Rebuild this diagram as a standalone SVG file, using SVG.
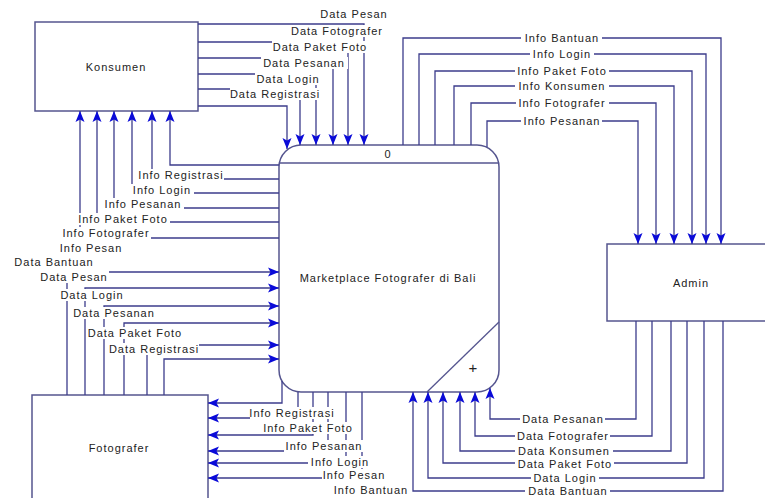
<svg xmlns="http://www.w3.org/2000/svg" width="765" height="498" viewBox="0 0 765 498">
<defs>
<marker id="ah" markerUnits="userSpaceOnUse" markerWidth="13" markerHeight="11" refX="11" refY="4.5" orient="auto" overflow="visible">
<path d="M0,0 L11,4.5 L0,9 L2.5,4.5 z" fill="#0a0ad8"/>
</marker>
<style>
.node{fill:#fff;stroke:#55558f;stroke-width:1.5}
.ln{fill:none;stroke:#3c3c8c;stroke-width:1.3;marker-end:url(#ah)}
.t{font-family:"Liberation Sans",Arial,sans-serif;font-size:11px;letter-spacing:1px;fill:#222;text-anchor:middle}
.bg{fill:#fff}
</style>
</defs>
<rect x="0" y="0" width="765" height="498" fill="#fff"/>

<g id="konsumen">
<rect class="node" x="35" y="22" width="163" height="89"/>
<text class="t" x="116" y="71">Konsumen</text>
</g>
<g id="fotografer">
<rect class="node" x="32" y="395" width="176" height="110"/>
<text class="t" x="119" y="452">Fotografer</text>
</g>
<g id="admin">
<rect class="node" x="607" y="244" width="170" height="77"/>
<text class="t" x="691" y="287">Admin</text>
</g>
<g id="process">
<rect class="node" x="279" y="145" width="220" height="247" rx="22" ry="22"/>
<line x1="279" y1="163" x2="499" y2="163" stroke="#55558f" stroke-width="1.3"/>
<line x1="427" y1="392" x2="499" y2="322" stroke="#55558f" stroke-width="1.3"/>
<text class="t" x="388" y="158">0</text>
<text class="t" x="388" y="282">Marketplace Fotografer di Bali</text>
<text x="473" y="373" font-family="Liberation Sans,Arial,sans-serif" font-size="15" fill="#222" text-anchor="middle">+</text>
</g>

<g id="connectors">
<path class="ln" d="M198,24 H364 V145"/>
<path class="ln" d="M198,42 H348 V145"/>
<path class="ln" d="M198,58 H333 V145"/>
<path class="ln" d="M198,74 H316 V145"/>
<path class="ln" d="M198,89 H300 V145"/>
<path class="ln" d="M198,106 H287 V149"/>

<path class="ln" d="M279,165 H170 V111"/>
<path class="ln" d="M279,179 H152 V111"/>
<path class="ln" d="M279,193 H132 V111"/>
<path class="ln" d="M279,208 H114 V111"/>
<path class="ln" d="M279,222 H97 V111"/>
<path class="ln" d="M279,238 H80 V111"/>

<path class="ln" d="M67,395 V272 H279"/>
<path class="ln" d="M85,395 V288 H279"/>
<path class="ln" d="M104,395 V306 H279"/>
<path class="ln" d="M124,395 V323 H279"/>
<path class="ln" d="M147,395 V345 H279"/>
<path class="ln" d="M164,395 V359 H279"/>

<path class="ln" d="M282,381 V403 H208"/>
<path class="ln" d="M298,392 V418 H208"/>
<path class="ln" d="M313,392 V435 H208"/>
<path class="ln" d="M328,392 V451 H208"/>
<path class="ln" d="M346,392 V463 H208"/>
<path class="ln" d="M362,392 V478 H208"/>

<path class="ln" d="M403,145 V38 H721 V244"/>
<path class="ln" d="M419,145 V54 H706 V244"/>
<path class="ln" d="M435,145 V71 H692 V244"/>
<path class="ln" d="M454,145 V86 H674 V244"/>
<path class="ln" d="M471,145 V103 H656 V244"/>
<path class="ln" d="M487,147 V121 H638 V244"/>

<path class="ln" d="M636,321 V419 H490 V388"/>
<path class="ln" d="M652,321 V436 H475 V392"/>
<path class="ln" d="M671,321 V451 H460 V392"/>
<path class="ln" d="M687,321 V463 H443 V392"/>
<path class="ln" d="M704,321 V478 H428 V392"/>
<path class="ln" d="M723,321 V491 H413 V392"/>
</g>

<g id="labels">
<rect class="bg" x="319" y="8" width="70" height="12"/><text class="t" x="354" y="18">Data Pesan</text>
<rect class="bg" x="289" y="25" width="96" height="12"/><text class="t" x="337" y="35">Data Fotografer</text>
<rect class="bg" x="272" y="41" width="97" height="12"/><text class="t" x="320" y="51">Data Paket Foto</text>
<rect class="bg" x="261" y="57" width="87" height="12"/><text class="t" x="304" y="67">Data Pesanan</text>
<rect class="bg" x="255" y="73" width="67" height="12"/><text class="t" x="288" y="83">Data Login</text>
<rect class="bg" x="230" y="88" width="90" height="12"/><text class="t" x="275" y="98">Data Registrasi</text>

<rect class="bg" x="138" y="169" width="86" height="12"/><text class="t" x="181" y="179">Info Registrasi</text>
<rect class="bg" x="131" y="184" width="63" height="12"/><text class="t" x="162" y="194">Info Login</text>
<rect class="bg" x="103" y="198" width="81" height="12"/><text class="t" x="143" y="208">Info Pesanan</text>
<rect class="bg" x="77" y="213" width="93" height="12"/><text class="t" x="123" y="223">Info Paket Foto</text>
<rect class="bg" x="61" y="227" width="90" height="12"/><text class="t" x="106" y="237">Info Fotografer</text>
<rect class="bg" x="58" y="242" width="66" height="12"/><text class="t" x="91" y="252">Info Pesan</text>
<rect class="bg" x="12" y="256" width="85" height="12"/><text class="t" x="54" y="266">Data Bantuan</text>

<rect class="bg" x="39" y="271" width="70" height="12"/><text class="t" x="74" y="281">Data Pesan</text>
<rect class="bg" x="58" y="289" width="68" height="12"/><text class="t" x="92" y="299">Data Login</text>
<rect class="bg" x="72" y="307" width="85" height="12"/><text class="t" x="114" y="317">Data Pesanan</text>
<rect class="bg" x="86" y="327" width="98" height="12"/><text class="t" x="135" y="337">Data Paket Foto</text>
<rect class="bg" x="109" y="343" width="90" height="12"/><text class="t" x="154" y="353">Data Registrasi</text>

<rect class="bg" x="250" y="407" width="85" height="12"/><text class="t" x="292" y="417">Info Registrasi</text>
<rect class="bg" x="262" y="422" width="93" height="12"/><text class="t" x="308" y="432">Info Paket Foto</text>
<rect class="bg" x="284" y="440" width="81" height="12"/><text class="t" x="324" y="450">Info Pesanan</text>
<rect class="bg" x="308" y="456" width="64" height="12"/><text class="t" x="340" y="466">Info Login</text>
<rect class="bg" x="322" y="469" width="65" height="12"/><text class="t" x="354" y="479">Info Pesan</text>
<rect class="bg" x="331" y="484" width="80" height="12"/><text class="t" x="371" y="494">Info Bantuan</text>

<rect class="bg" x="521" y="32" width="81" height="12"/><text class="t" x="562" y="42">Info Bantuan</text>
<rect class="bg" x="530" y="48" width="64" height="12"/><text class="t" x="562" y="58">Info Login</text>
<rect class="bg" x="515" y="65" width="94" height="12"/><text class="t" x="562" y="75">Info Paket Foto</text>
<rect class="bg" x="515" y="80" width="94" height="12"/><text class="t" x="562" y="90">Info Konsumen</text>
<rect class="bg" x="516" y="97" width="93" height="12"/><text class="t" x="562" y="107">Info Fotografer</text>
<rect class="bg" x="521" y="115" width="81" height="12"/><text class="t" x="562" y="125">Info Pesanan</text>

<rect class="bg" x="520" y="413" width="85" height="12"/><text class="t" x="563" y="423">Data Pesanan</text>
<rect class="bg" x="515" y="430" width="95" height="12"/><text class="t" x="563" y="440">Data Fotografer</text>
<rect class="bg" x="515" y="445" width="98" height="12"/><text class="t" x="564" y="455">Data Konsumen</text>
<rect class="bg" x="515" y="458" width="99" height="11"/><text class="t" x="565" y="468">Data Paket Foto</text>
<rect class="bg" x="531" y="472" width="68" height="12"/><text class="t" x="565" y="482">Data Login</text>
<rect class="bg" x="525" y="485" width="85" height="12"/><text class="t" x="568" y="495">Data Bantuan</text>
</g>
</svg>
